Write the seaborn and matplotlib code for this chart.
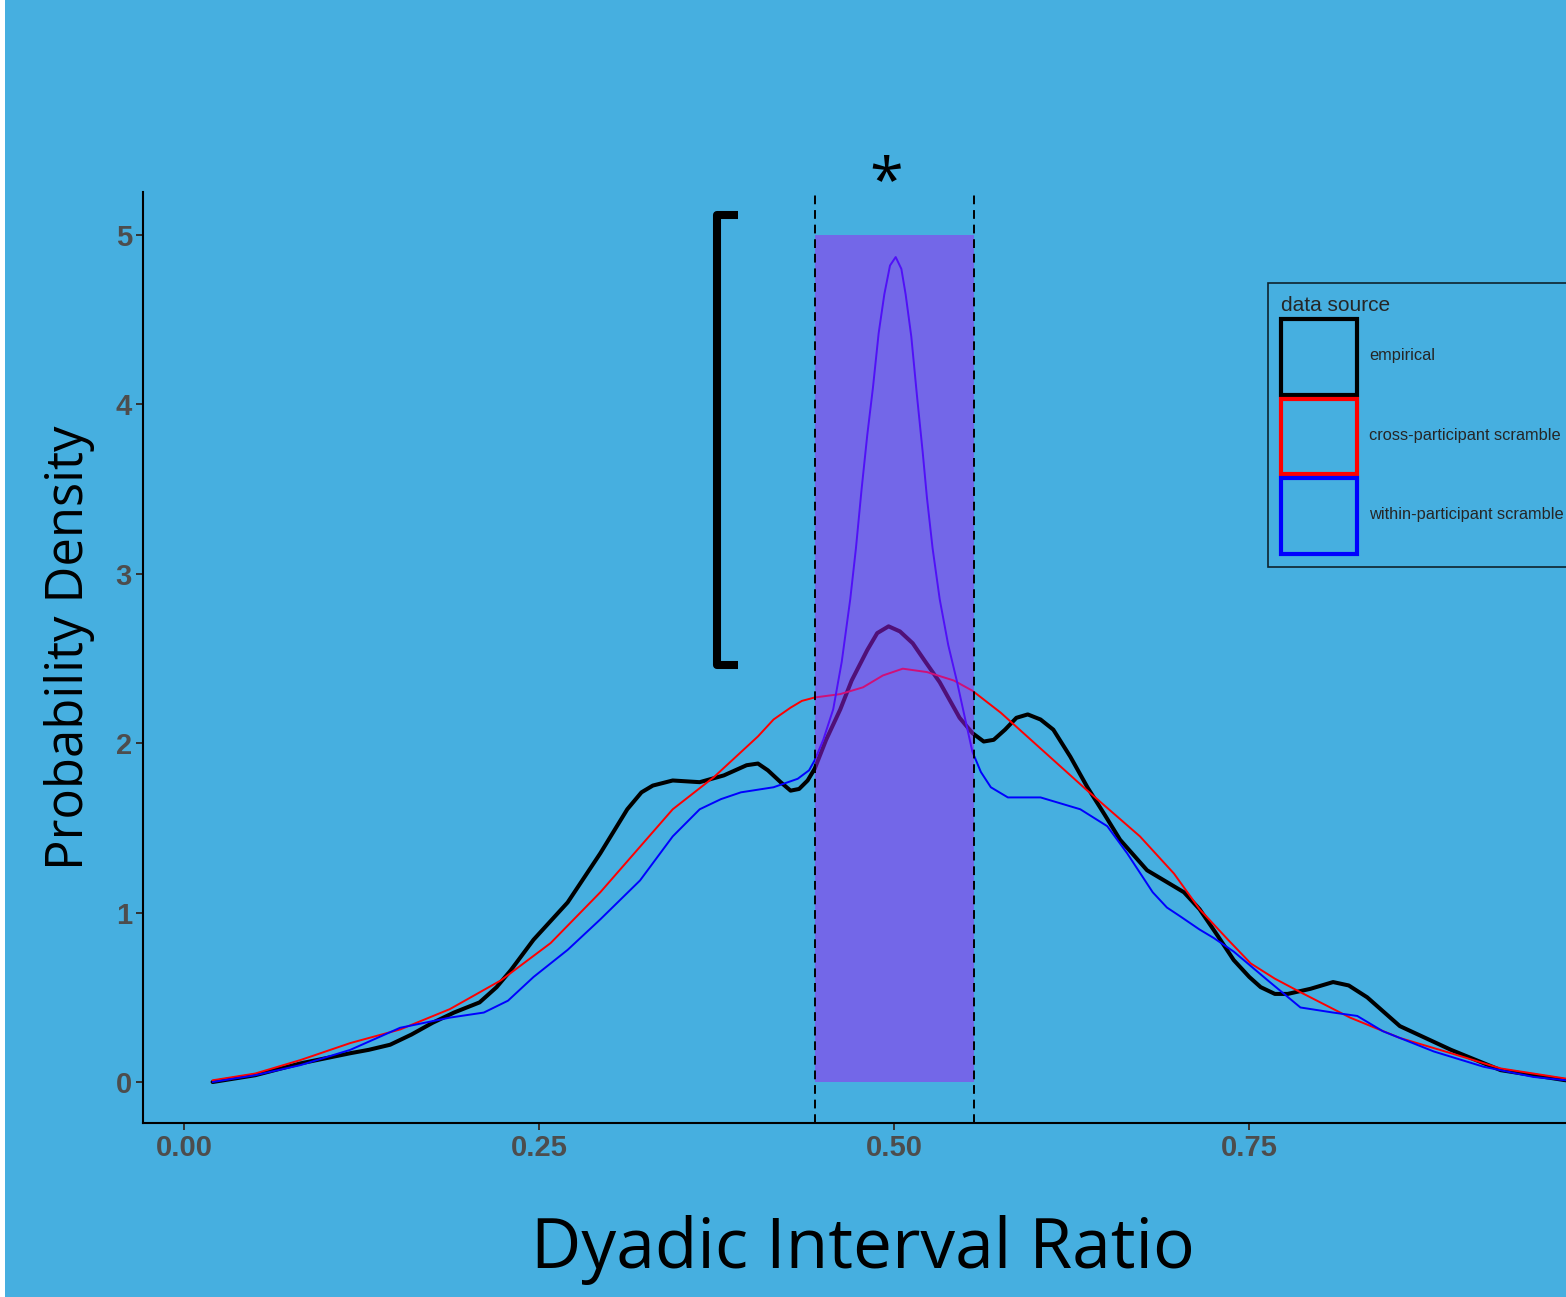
import numpy as np
import pandas as pd
import matplotlib
matplotlib.use('Agg')
import matplotlib.pyplot as plt
from matplotlib.patches import Patch, Rectangle
import seaborn as sns

# ---- values ----
sources = ['empirical', 'cross-participant scramble', 'within-participant scramble']
source_colors = ['black', 'red', 'blue']
source_widths = [2.9, 1.4, 1.4]

emp_x = [0.020, 0.050, 0.082, 0.117, 0.130, 0.145, 0.160, 0.175, 0.190, 0.208,
         0.220, 0.230, 0.246, 0.270, 0.293, 0.312, 0.322, 0.330, 0.344, 0.363,
         0.380, 0.396, 0.404, 0.411, 0.420, 0.427, 0.433, 0.439, 0.444, 0.452,
         0.462, 0.470, 0.481, 0.488, 0.496, 0.504, 0.513, 0.522, 0.532, 0.546,
         0.555, 0.563, 0.570, 0.578, 0.586, 0.594, 0.603, 0.612, 0.624, 0.636,
         0.648, 0.659, 0.678, 0.692, 0.704, 0.715, 0.728, 0.739, 0.750, 0.758,
         0.768, 0.777, 0.793, 0.809, 0.820, 0.833, 0.856, 0.892, 0.927, 0.973]
emp_y = [0.00, 0.04, 0.11, 0.17, 0.19, 0.22, 0.28, 0.35, 0.41, 0.47,
         0.56, 0.66, 0.84, 1.06, 1.35, 1.61, 1.71, 1.75, 1.78, 1.77,
         1.81, 1.87, 1.88, 1.84, 1.77, 1.72, 1.73, 1.78, 1.85, 2.02,
         2.20, 2.37, 2.55, 2.65, 2.69, 2.66, 2.59, 2.48, 2.36, 2.15,
         2.06, 2.01, 2.02, 2.08, 2.15, 2.17, 2.14, 2.08, 1.92, 1.74,
         1.58, 1.43, 1.25, 1.18, 1.12, 1.02, 0.86, 0.72, 0.62, 0.56,
         0.52, 0.52, 0.55, 0.59, 0.57, 0.50, 0.33, 0.19, 0.07, 0.01]

cross_x = [0.020, 0.050, 0.082, 0.117, 0.152, 0.187, 0.223, 0.258, 0.293, 0.344,
           0.373, 0.404, 0.415, 0.427, 0.435, 0.444, 0.462, 0.478, 0.492, 0.506,
           0.523, 0.542, 0.555, 0.575, 0.636, 0.673, 0.697, 0.715, 0.735, 0.751,
           0.768, 0.786, 0.821, 0.856, 0.892, 0.927, 0.973]
cross_y = [0.01, 0.05, 0.13, 0.23, 0.31, 0.43, 0.60, 0.82, 1.12, 1.61,
           1.80, 2.04, 2.14, 2.21, 2.25, 2.27, 2.29, 2.33, 2.40, 2.44,
           2.42, 2.37, 2.31, 2.18, 1.72, 1.45, 1.23, 1.02, 0.84, 0.70,
           0.61, 0.53, 0.38, 0.26, 0.17, 0.08, 0.02]

within_x = [0.020, 0.050, 0.082, 0.117, 0.152, 0.187, 0.211, 0.228, 0.246, 0.270,
            0.293, 0.321, 0.344, 0.363, 0.378, 0.392, 0.415, 0.432, 0.440, 0.444,
            0.450, 0.457, 0.463, 0.469, 0.473, 0.477, 0.481, 0.485, 0.489, 0.493,
            0.497, 0.501, 0.505, 0.508, 0.512, 0.516, 0.520, 0.523, 0.527, 0.532,
            0.538, 0.544, 0.550, 0.555, 0.561, 0.568, 0.580, 0.603, 0.631, 0.650,
            0.664, 0.682, 0.692, 0.701, 0.715, 0.725, 0.739, 0.763, 0.786, 0.809,
            0.826, 0.844, 0.880, 0.915, 0.950, 0.973]
within_y = [0.00, 0.04, 0.10, 0.19, 0.32, 0.38, 0.41, 0.48, 0.62, 0.78,
            0.96, 1.19, 1.45, 1.61, 1.67, 1.71, 1.74, 1.79, 1.84, 1.90,
            2.02, 2.20, 2.48, 2.85, 3.15, 3.50, 3.82, 4.10, 4.42, 4.65,
            4.82, 4.87, 4.80, 4.65, 4.40, 4.05, 3.72, 3.45, 3.15, 2.85,
            2.58, 2.37, 2.14, 1.95, 1.83, 1.74, 1.68, 1.68, 1.61, 1.51,
            1.35, 1.12, 1.03, 0.98, 0.90, 0.85, 0.77, 0.60, 0.44, 0.41,
            0.39, 0.30, 0.18, 0.09, 0.03, 0.01]

x_ticks = [0.00, 0.25, 0.50, 0.75]
x_tick_labels = ['0.00', '0.25', '0.50', '0.75']
y_ticks = [0, 1, 2, 3, 4, 5]

# highlighted band and significance bracket
band_lo, band_hi, band_top = 0.444, 0.556, 5.0
bracket_x = [0.390, 0.3755, 0.3755, 0.390]
bracket_y = [5.12, 5.12, 2.46, 2.46]

bg = '#46AFE0'

df = pd.concat(
    [pd.DataFrame({'ratio': xs, 'density': ys, 'source': name})
     for name, xs, ys in zip(sources, [emp_x, cross_x, within_x], [emp_y, cross_y, within_y])],
    ignore_index=True)

sns.set_theme(style='ticks')
plt.rcParams['font.family'] = ['Liberation Sans', 'DejaVu Sans']

W, H = 1566, 1297
fig = plt.figure(figsize=(W / 100, H / 100), dpi=100, facecolor='white')
fig.patches.append(Rectangle((5 / W, 0), 1, 1, transform=fig.transFigure,
                             facecolor=bg, edgecolor='none', zorder=-10))
ax = fig.add_axes([143 / W, 1 - 1123 / H, (W - 143) / W, (1123 - 192) / H])
ax.set_facecolor('none')

sns.lineplot(data=df, x='ratio', y='density', hue='source', size='source',
             palette=dict(zip(sources, source_colors)),
             sizes=dict(zip(sources, source_widths)),
             hue_order=sources, size_order=sources,
             sort=False, estimator=None, legend=False, ax=ax)
for ln in ax.get_lines():
    ln.set_solid_joinstyle('round')

# purple band over the curves
ax.fill_between([band_lo, band_hi], 0, band_top, color='#A020F0', alpha=0.5, lw=0, zorder=3)
for xv in (band_lo, band_hi):
    ax.axvline(xv, color='black', lw=1.4, ls=(0, (4.5, 3)), zorder=4)

ax.plot(bracket_x, bracket_y, color='black', lw=5.8, solid_joinstyle='round',
        solid_capstyle='butt', clip_on=False, zorder=5)
ax.text(0.494, 5.30, '*', fontsize=44, ha='center', va='center', family='Open Sans',
        color='black', clip_on=False)

ax.set_xlim(-0.029, 0.973)
ax.set_ylim(-0.242, 5.254)
ax.set_xticks(x_ticks, x_tick_labels)
ax.set_yticks(y_ticks, [str(v) for v in y_ticks])
ax.tick_params(axis='both', colors='#333333', labelcolor='#4D4D4D', labelsize=21,
               length=5, width=1.4, pad=3)
for lbl in ax.get_xticklabels() + ax.get_yticklabels():
    lbl.set_fontweight('bold')
for side in ('left', 'bottom'):
    ax.spines[side].set_color('black')
    ax.spines[side].set_linewidth(1.5)
sns.despine(ax=ax)

ax.set_xlabel('Dyadic Interval Ratio', fontsize=50, family='Open Sans', color='black')
ax.xaxis.set_label_coords(0.506, -0.136)
ax.xaxis.label.set_va('center')
ax.set_ylabel('Probability Density', fontsize=36.5, family='Open Sans', color='black')
ax.yaxis.set_label_coords(-0.0515, 0.51)
ax.yaxis.label.set_va('center')

handles = [Patch(facecolor='none', edgecolor=c, linewidth=3) for c in source_colors]
leg = fig.legend(handles, sources, title='data source', loc='upper left',
                 bbox_to_anchor=(1268 / W, 1 - 283 / H), bbox_transform=fig.transFigure,
                 frameon=True, fancybox=False, fontsize=11.8, title_fontsize=15,
                 handlelength=4.6, handleheight=6.7, labelspacing=0.25,
                 handletextpad=0.75, borderpad=0.8, borderaxespad=0, alignment='left')
leg.get_frame().set_edgecolor('black')
leg.get_frame().set_facecolor(bg)
leg.get_frame().set_linewidth(1.2)

fig.savefig('out.png', dpi=100, facecolor='white')
